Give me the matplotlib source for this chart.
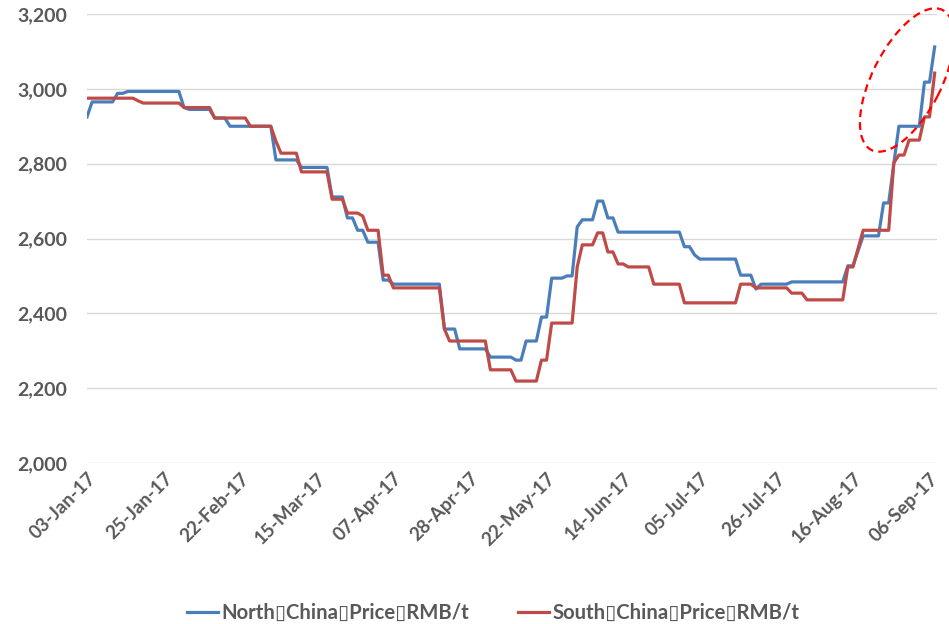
import matplotlib
matplotlib.use("Agg")
from matplotlib import pyplot as plt
from matplotlib.patches import Ellipse
from matplotlib.ticker import FuncFormatter

plt.rcParams["font.family"] = ["Lato", "DejaVu Sans"]
plt.rcParams["font.weight"] = "bold"

date_labels = ["03-Jan-17", "25-Jan-17", "22-Feb-17", "15-Mar-17", "07-Apr-17", "28-Apr-17",
               "22-May-17", "14-Jun-17", "05-Jul-17", "26-Jul-17", "16-Aug-17", "06-Sep-17"]
label_step = 15

north_label = "North\u25afChina\u25afPrice\u25afRMB/t"
south_label = "South\u25afChina\u25afPrice\u25afRMB/t"

north = [
    2925, 2965, 2965, 2965, 2965, 2965, 2988, 2988, 2993, 2993,
    2993, 2993, 2993, 2993, 2993, 2993, 2993, 2993, 2993, 2950,
    2945, 2945, 2945, 2945, 2945, 2922, 2922, 2922, 2900, 2900,
    2900, 2900, 2900, 2900, 2900, 2900, 2900, 2810, 2810, 2810,
    2810, 2810, 2790, 2790, 2790, 2790, 2790, 2790, 2711, 2711,
    2711, 2655, 2655, 2622, 2622, 2590, 2590, 2590, 2489, 2489,
    2478, 2478, 2478, 2478, 2478, 2478, 2478, 2478, 2478, 2478,
    2358, 2358, 2358, 2305, 2305, 2305, 2305, 2305, 2305, 2283,
    2283, 2283, 2283, 2283, 2275, 2275, 2326, 2326, 2326, 2390,
    2390, 2494, 2494, 2494, 2500, 2500, 2631, 2650, 2650, 2650,
    2700, 2700, 2655, 2655, 2617, 2617, 2617, 2617, 2617, 2617,
    2617, 2617, 2617, 2617, 2617, 2617, 2617, 2578, 2578, 2556,
    2545, 2545, 2545, 2545, 2545, 2545, 2545, 2545, 2502, 2502,
    2502, 2465, 2478, 2478, 2478, 2478, 2478, 2478, 2484, 2484,
    2484, 2484, 2484, 2484, 2484, 2484, 2484, 2484, 2484, 2527,
    2527, 2567, 2607, 2607, 2607, 2607, 2695, 2695, 2800, 2900,
    2900, 2900, 2900, 2900, 3018, 3018, 3112,
]

south = [
    2975, 2975, 2975, 2975, 2975, 2975, 2975, 2975, 2975, 2975,
    2968, 2962, 2962, 2962, 2962, 2962, 2962, 2962, 2962, 2950,
    2950, 2950, 2950, 2950, 2950, 2922, 2922, 2922, 2922, 2922,
    2922, 2922, 2900, 2900, 2900, 2900, 2900, 2860, 2828, 2828,
    2828, 2828, 2778, 2778, 2778, 2778, 2778, 2778, 2705, 2705,
    2705, 2668, 2668, 2668, 2660, 2622, 2622, 2622, 2502, 2502,
    2468, 2468, 2468, 2468, 2468, 2468, 2468, 2468, 2468, 2468,
    2358, 2326, 2326, 2326, 2326, 2326, 2326, 2326, 2326, 2249,
    2249, 2249, 2249, 2249, 2219, 2219, 2219, 2219, 2219, 2275,
    2275, 2374, 2374, 2374, 2374, 2374, 2524, 2583, 2583, 2583,
    2615, 2615, 2564, 2564, 2532, 2532, 2524, 2524, 2524, 2524,
    2524, 2478, 2478, 2478, 2478, 2478, 2478, 2428, 2428, 2428,
    2428, 2428, 2428, 2428, 2428, 2428, 2428, 2428, 2478, 2478,
    2478, 2468, 2468, 2468, 2468, 2468, 2468, 2468, 2454, 2454,
    2454, 2436, 2436, 2436, 2436, 2436, 2436, 2436, 2436, 2524,
    2524, 2573, 2622, 2622, 2622, 2622, 2622, 2622, 2802, 2823,
    2823, 2863, 2863, 2863, 2925, 2925, 3042,
]

y_ticks = [2000, 2200, 2400, 2600, 2800, 3000, 3200]

text_color = "#595959"
blue = "#4A7EBB"
red = "#BE4B48"

fig = plt.figure(figsize=(9.49, 6.24), dpi=100)
ax = fig.add_axes([87 / 949, 161 / 624, (936.7 - 87) / 949, 449 / 624])

x = list(range(len(north)))
ax.plot(x, north, color=blue, lw=2.3, label=north_label, solid_joinstyle="round")
ax.plot(x, south, color=red, lw=2.3, label=south_label, solid_joinstyle="round")

ax.set_xlim(0, 166.4)
ax.set_ylim(2000, 3200)
ax.set_yticks(y_ticks)
ax.yaxis.set_major_formatter(FuncFormatter(lambda v, p: f"{int(v):,}"))
ax.set_xticks(range(0, label_step * len(date_labels), label_step))
ax.set_xticklabels(date_labels, rotation=45, ha="right", va="top", rotation_mode="anchor")

ax.grid(axis="y", color="#D9D9D9", lw=1.0)
ax.set_axisbelow(True)
for s in ax.spines.values():
    s.set_visible(False)
ax.tick_params(axis="y", length=0, pad=14, labelsize=14, labelcolor=text_color)
ax.tick_params(axis="x", length=0, pad=5, labelsize=13.5, labelcolor=text_color)

# dashed highlight around the September rise
fig.add_artist(Ellipse((9.07, 5.44), 1.57, 0.69, angle=63, fill=False,
                       edgecolor="#FF0000", lw=1.6, ls=(0, (3.5, 2.3)),
                       transform=fig.dpi_scale_trans))

fig.legend(loc="lower center", bbox_to_anchor=(0.52, -0.027), ncol=2, frameon=False,
           fontsize=14.6, labelcolor=text_color, handlelength=1.5, handletextpad=0.2,
           columnspacing=2.4)

plt.savefig("out.png", dpi=100)
